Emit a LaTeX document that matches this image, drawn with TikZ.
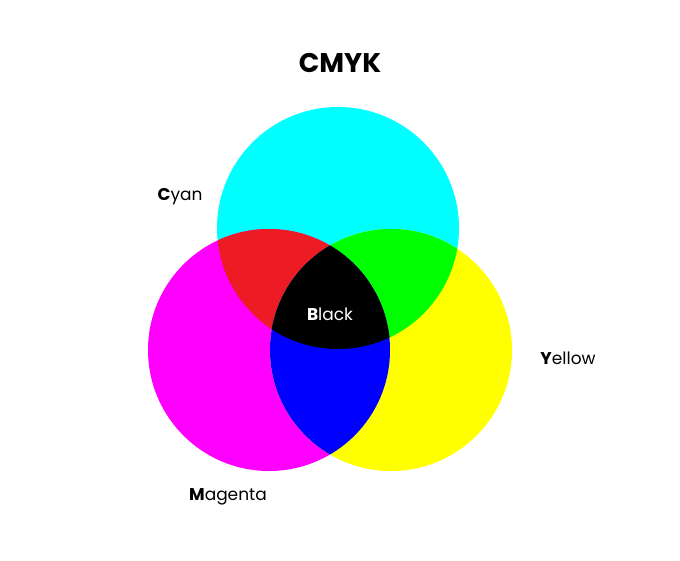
\documentclass[tikz,border=0pt]{standalone}
\usepackage{fontspec}
\setmainfont{Poppins}
\definecolor{cy}{RGB}{0,255,255}
\definecolor{mg}{RGB}{255,0,255}
\definecolor{yl}{RGB}{255,255,0}
\definecolor{rd}{RGB}{237,28,36}
\definecolor{gr}{RGB}{0,255,0}
\definecolor{bl}{RGB}{0,0,255}
\begin{document}
\begin{tikzpicture}[x=1pt,y=-1pt,lbl/.style={font=\fontsize{17}{20}\selectfont}]
\useasboundingbox[fill=white] (0,0) rectangle (680,560);
\def\R{121}
\coordinate (c) at (338,228);
\coordinate (m) at (269,350);
\coordinate (y) at (391,350);
\fill[cy] (c) circle (\R);
\fill[mg] (m) circle (\R);
\fill[yl] (y) circle (\R);
\begin{scope}\clip (c) circle (\R); \fill[rd] (m) circle (\R); \end{scope}
\begin{scope}\clip (c) circle (\R); \fill[gr] (y) circle (\R); \end{scope}
\begin{scope}\clip (m) circle (\R); \fill[bl] (y) circle (\R); \end{scope}
\begin{scope}\clip (c) circle (\R); \clip (m) circle (\R); \fill[black] (y) circle (\R); \end{scope}
\node (title) at (340,63) {\fontsize{27}{30}\selectfont\bfseries CMYK};
\node[lbl] (cl) at (180,197) {\textbf{C}yan};
\node[lbl] (yl) at (568,358) {\textbf{Y}ellow};
\node[lbl] (ml) at (228,497) {\textbf{M}agenta};
\node[lbl,text=white] (bk) at (330,314) {\textbf{B}lack};
\end{tikzpicture}
\end{document}
